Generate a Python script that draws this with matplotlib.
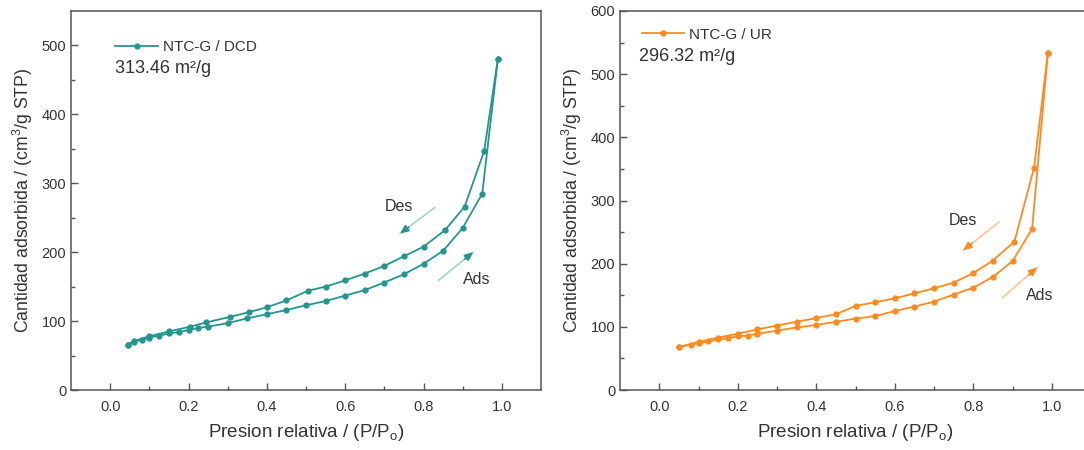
import numpy as np
import matplotlib
matplotlib.use('Agg')
import matplotlib.pyplot as plt

plt.rcParams['font.family'] = ['Liberation Sans', 'DejaVu Sans']

# ── data: NTC-G / DCD ─────────────────────────────────────────────
dcd_ads_p = [0.045, 0.06, 0.08, 0.10, 0.125, 0.15, 0.175, 0.20, 0.225, 0.25, 0.30, 0.35,
             0.40, 0.45, 0.50, 0.55, 0.60, 0.65, 0.70, 0.75, 0.80, 0.85, 0.90, 0.95, 0.99]
dcd_ads_v = [66, 70, 73, 76, 79, 82, 84, 87, 90, 92, 97, 104,
             110, 116, 123, 129, 137, 145, 156, 168, 183, 202, 235, 285, 481]
dcd_des_p = [0.99, 0.955, 0.905, 0.855, 0.80, 0.75, 0.70, 0.65, 0.60, 0.55, 0.505, 0.45,
             0.40, 0.355, 0.305, 0.245, 0.205, 0.15, 0.10, 0.06, 0.045]
dcd_des_v = [481, 347, 266, 232, 208, 194, 180, 169, 159, 150, 144, 130,
             120, 113, 106, 98, 92, 85, 78, 71, 66]

# ── data: NTC-G / UR ──────────────────────────────────────────────
ur_ads_p = [0.05, 0.08, 0.10, 0.125, 0.15, 0.175, 0.20, 0.225, 0.25, 0.30, 0.35, 0.40,
            0.45, 0.50, 0.55, 0.60, 0.65, 0.70, 0.75, 0.80, 0.85, 0.90, 0.95, 0.99]
ur_ads_v = [68, 72, 74, 77, 80, 82, 85, 86, 89, 94, 99, 103,
            108, 113, 117, 125, 132, 140, 151, 162, 179, 204, 255, 533]
ur_des_p = [0.99, 0.955, 0.905, 0.85, 0.80, 0.75, 0.70, 0.65, 0.60, 0.55, 0.50, 0.45,
            0.40, 0.35, 0.30, 0.25, 0.20, 0.15, 0.10, 0.05]
ur_des_v = [533, 352, 235, 205, 185, 170, 161, 153, 145, 139, 133, 120,
            114, 108, 102, 96, 89, 83, 76, 68]

TEAL = '#23968F'
TEAL_LIGHT = '#9ED6D1'
ORANGE = '#FF8A1F'
ORANGE_LIGHT = '#FFC48F'
TXT = '#333333'

fig = plt.figure(figsize=(10.84, 4.5), dpi=100)
W, H = 1084, 450
ax1 = fig.add_axes([71 / W, 1 - 390 / H, 470 / W, 379 / H])
ax2 = fig.add_axes([620 / W, 1 - 390 / H, 471 / W, 379 / H])


def style_axes(ax, ymax, ystep):
    ax.set_xlim(-0.1, 1.1)
    ax.set_ylim(0, ymax)
    ax.set_xticks(np.arange(0, 1.01, 0.2))
    ax.set_xticks(np.arange(0.1, 1.01, 0.2), minor=True)
    ax.set_yticks(np.arange(0, ymax + 1, ystep))
    ax.set_yticks(np.arange(ystep / 2, ymax, ystep), minor=True)
    ax.tick_params(which='both', direction='in', colors='#555555', labelcolor=TXT, labelsize=10.5)
    ax.tick_params(which='major', length=5, width=1)
    ax.tick_params(which='minor', length=3, width=1)
    ax.tick_params(axis='x', pad=7)
    for s in ax.spines.values():
        s.set_color('#555555')
        s.set_linewidth(1.1)
    ax.set_xlabel('Presion relativa / (P/P$_\\mathregular{o}$)', fontsize=13.5, color=TXT, labelpad=6)
    ax.set_ylabel('Cantidad adsorbida / (cm$^\\mathregular{3}$/g STP)', fontsize=12.7, color=TXT, labelpad=5)


def arrow(ax, start, end, light, dark):
    ax.annotate('', xy=end, xytext=start,
                arrowprops=dict(arrowstyle='-', color=light, lw=1.2, shrinkA=0, shrinkB=0))
    hx = start[0] + 0.75 * (end[0] - start[0])
    hy = start[1] + 0.75 * (end[1] - start[1])
    ax.annotate('', xy=end, xytext=(hx, hy),
                arrowprops=dict(arrowstyle='-|>,head_length=0.5,head_width=0.22', color=dark,
                                lw=1.2, shrinkA=0, shrinkB=0))


# ── left panel ──
style_axes(ax1, 550, 100)
ax1.plot(dcd_ads_p, dcd_ads_v, '-o', color=TEAL, lw=1.3, ms=3.5, label='NTC-G / DCD')
ax1.plot(dcd_des_p, dcd_des_v, '-o', color=TEAL, lw=1.3, ms=3.5)
ax1.legend(loc='upper left', bbox_to_anchor=(0.081, 0.94), frameon=False, fontsize=11,
           handlelength=2.8, handletextpad=0.3, labelcolor=TXT, borderaxespad=0)
ax1.text(0.094, 0.847, '313.46 m²/g', transform=ax1.transAxes, fontsize=13, color=TXT,
         ha='left', va='center')
arrow(ax1, (0.829, 265), (0.74, 227), TEAL_LIGHT, TEAL)
arrow(ax1, (0.838, 159), (0.927, 200), TEAL_LIGHT, TEAL)
ax1.text(0.738, 267, 'Des', fontsize=11.5, color=TXT, ha='center', va='center')
ax1.text(0.935, 160, 'Ads', fontsize=11.5, color=TXT, ha='center', va='center')

# ── right panel ──
style_axes(ax2, 600, 100)
ax2.plot(ur_ads_p, ur_ads_v, '-o', color=ORANGE, lw=1.3, ms=3.5, label='NTC-G / UR')
ax2.plot(ur_des_p, ur_des_v, '-o', color=ORANGE, lw=1.3, ms=3.5)
ax2.legend(loc='upper left', bbox_to_anchor=(0.033, 0.972), frameon=False, fontsize=11,
           handlelength=2.8, handletextpad=0.3, labelcolor=TXT, borderaxespad=0)
ax2.text(0.04, 0.881, '296.32 m²/g', transform=ax2.transAxes, fontsize=13, color=TXT,
         ha='left', va='center')
arrow(ax2, (0.866, 266), (0.774, 221), ORANGE_LIGHT, ORANGE)
arrow(ax2, (0.874, 146), (0.963, 194), ORANGE_LIGHT, ORANGE)
ax2.text(0.774, 268, 'Des', fontsize=11.5, color=TXT, ha='center', va='center')
ax2.text(0.969, 149, 'Ads', fontsize=11.5, color=TXT, ha='center', va='center')

fig.savefig('out.png', dpi=100)
